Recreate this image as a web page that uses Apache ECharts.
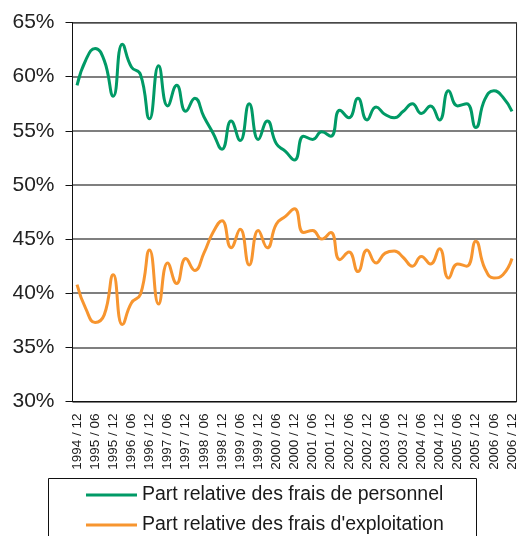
<!DOCTYPE html>
<html>
<head>
<meta charset="utf-8" />
<title></title>
<style type="text/css">
	html,body{ margin:0; padding:0; width:100%; height:100%; background:#fff; }
	#main{ width:519px; height:536px; }
</style>
</head>
<body>
<div id="main"></div>
<script src="https://cdn.jsdelivr.net/npm/echarts@6/dist/echarts.min.js"></script>
<script>
// monthly categories, 1994/11 .. 2007/01 (one spare month each side like the original)
var months = [];
for (var y = 1994; y <= 2007; y++) {
	for (var m = 1; m <= 12; m++) {
		if ((y == 1994 && m < 11) || (y == 2007 && m > 1)) continue;
		months.push(y + ' / ' + (m < 10 ? '0' + m : m));
	}
}
// quarterly points 1994/12 .. 2006/12
var quarters = [];
for (var i = 1; i < months.length; i += 3) quarters.push(months[i]);

var personnel = [59.2, 61.6, 62.6, 61.5, 58.2, 63.0, 60.9, 60.2, 56.1, 61.0, 57.3, 59.2, 56.8,
	58.0, 56.3, 54.8, 53.3, 55.9, 54.1, 57.5, 54.2, 55.9, 53.8, 53.1, 52.3,
	54.5, 54.2, 54.9, 54.5, 56.9, 56.2, 58.0, 56.0, 57.2, 56.5, 56.2, 56.8,
	57.5, 56.6, 57.3, 56.0, 58.7, 57.3, 57.5, 55.3, 57.9, 58.7, 58.1, 56.8];
var exploitation = [40.8, 38.5, 37.3, 38.0, 41.7, 37.1, 39.1, 39.9, 44.0, 39.0, 42.8, 40.9, 43.2,
	42.1, 43.7, 45.6, 46.7, 44.2, 45.9, 42.6, 45.8, 44.2, 46.4, 47.1, 47.8,
	45.6, 45.8, 45.0, 45.6, 43.1, 43.8, 42.0, 44.0, 42.8, 43.7, 43.9, 43.3,
	42.5, 43.4, 42.7, 44.1, 41.4, 42.7, 42.5, 44.8, 42.3, 41.4, 41.7, 43.2];

var names = ['Part relative des frais de personnel', "Part relative des frais d'exploitation"];
var colors = ['#009a66', '#f7952f'];

var font = "'Liberation Sans', Arial, sans-serif";
function pairs(vals) {
	return vals.map(function(v, i) { return [quarters[i], v]; });
}
// one legend per row, the frame is drawn as a graphic
function legendRow(name, top) {
	return {
		left: 86, top: top, padding: 0,
		itemWidth: 51, itemHeight: 3,
		icon: 'rect',
		textStyle: { fontFamily: font, fontSize: 19.5, color: '#1a1a1a', lineHeight: 20 },
		data: [name]
	};
}

var myChart = echarts.init(document.getElementById('main'));
var option = {
	animation: false,
	grid: {
		left: 72.5, top: 22.5, right: 1.5, bottom: 134.5,
		show: true, borderColor: '#222', borderWidth: 1
	},
	graphic: [{
		type: 'rect',
		shape: { x: 48.5, y: 478.5, width: 428, height: 80 },
		style: { fill: 'none', stroke: '#111', lineWidth: 1 }
	}],
	legend: [legendRow(names[0], 485), legendRow(names[1], 515)],
	xAxis: {
		type: 'category',
		data: months,
		boundaryGap: true,
		axisLine: { lineStyle: { color: '#111', width: 1 } },
		axisTick: {
			length: 5,
			interval: function(idx) { return idx % 2 == 0; },
			lineStyle: { color: '#111' }
		},
		axisLabel: {
			rotate: 90,
			margin: 12,
			interval: function(idx) { return (idx - 1) % 6 == 0; },
			fontFamily: font, fontSize: 13.5, color: '#1a1a1a'
		},
		splitLine: { show: false }
	},
	yAxis: {
		type: 'value',
		min: 30, max: 65, interval: 5,
		axisLine: { show: true, lineStyle: { color: '#111', width: 1 } },
		axisTick: { show: true, length: 7, lineStyle: { color: '#111' } },
		axisLabel: {
			margin: 18,
			formatter: '{value}%',
			fontFamily: font, fontSize: 21, color: '#222'
		},
		splitLine: { lineStyle: { color: '#555', width: 1.5 } }
	},
	series: [{
		name: names[0],
		type: 'line',
		data: pairs(personnel),
		smooth: 0.5,
		showSymbol: false,
		color: colors[0],
		lineStyle: { width: 3, color: colors[0] }
	}, {
		name: names[1],
		type: 'line',
		data: pairs(exploitation),
		smooth: 0.5,
		showSymbol: false,
		color: colors[1],
		lineStyle: { width: 3, color: colors[1] }
	}]
};
myChart.setOption(option);
</script>
</body>
</html>
